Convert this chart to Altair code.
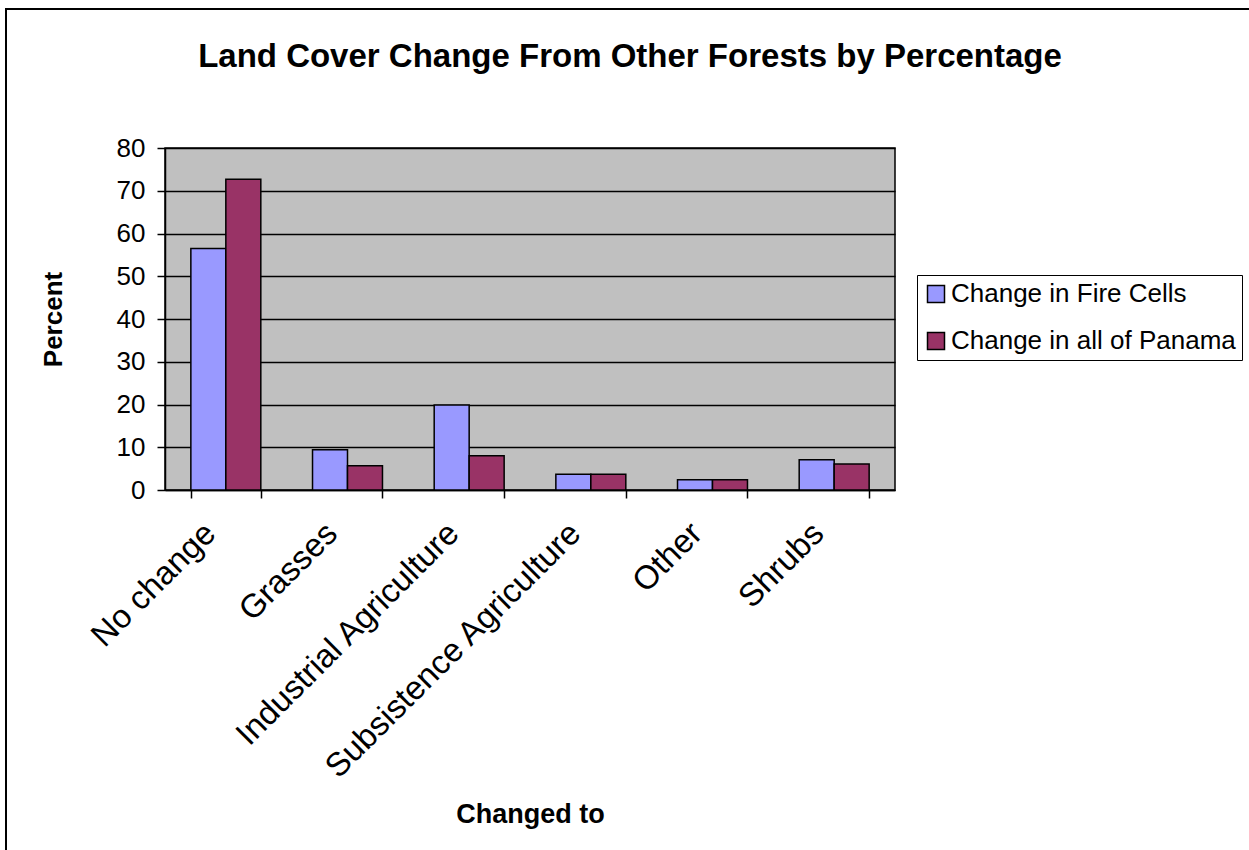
import altair as alt
import pandas as pd

categories = ["No change", "Grasses", "Industrial Agriculture",
              "Subsistence Agriculture", "Other", "Shrubs"]
series_names = ["Change in Fire Cells", "Change in all of Panama"]
fire_cells = [56.5, 9.4, 19.9, 3.7, 2.4, 7.1]
all_panama = [72.7, 5.7, 8.0, 3.7, 2.4, 6.1]
y_ticks = [0, 10, 20, 30, 40, 50, 60, 70, 80]
colors = ["#9999FF", "#993366"]

rows = []
for c, a, b in zip(categories, fire_cells, all_panama):
    rows.append({"category": c, "series": series_names[0], "value": a})
    rows.append({"category": c, "series": series_names[1], "value": b})
df = pd.DataFrame(rows)

FONT = "Liberation Sans"

bars = alt.Chart(df).mark_bar(stroke="black", strokeWidth=1.5).encode(
    x=alt.X("category:N", sort=categories,
            scale=alt.Scale(paddingInner=0.425, paddingOuter=0.2125),
            axis=alt.Axis(title="Changed to", titleFontSize=27, titleFont=FONT,
                          titleFontWeight="bold", titleColor="black",
                          titleY=332, titleBaseline="alphabetic",
                          labelAngle=-45, labelAlign="right", labelBaseline="middle",
                          labelFontSize=33, labelFont=FONT, labelColor="black",
                          labelPadding=30, labelOffset=-16, labelLimit=600,
                          tickBand="extent", tickSize=8, tickColor="black", tickWidth=1.5,
                          domainColor="black", domainWidth=1.5, grid=False)),
    xOffset=alt.XOffset("series:N", sort=series_names,
                        scale=alt.Scale(paddingInner=0, paddingOuter=0)),
    y=alt.Y("value:Q", scale=alt.Scale(domain=[0, 80], nice=False),
            axis=alt.Axis(values=y_ticks, title="Percent", titleFontSize=26,
                          titleFont=FONT, titleFontWeight="bold", titleColor="black",
                          titleAngle=-90, titleX=-112, titleY=171,
                          titleAlign="center", titleBaseline="middle",
                          labelFontSize=26, labelFont=FONT, labelColor="black",
                          labelPadding=12, tickSize=8, tickColor="black", tickWidth=1.5,
                          domainColor="black", domainWidth=1.5,
                          grid=True, gridColor="black", gridWidth=1.5, gridOpacity=1)),
    color=alt.Color("series:N", sort=series_names,
                    scale=alt.Scale(domain=series_names, range=colors),
                    legend=alt.Legend(title=None, orient="none", legendX=752, legendY=127,
                                      strokeColor="black", padding=6,
                                      labelFontSize=26, labelFont=FONT, labelColor="black",
                                      labelLimit=500,
                                      symbolType="square", symbolSize=289,
                                      symbolStrokeColor="black", symbolStrokeWidth=1.5,
                                      labelOffset=2, rowPadding=21)),
)

border = alt.Chart(pd.DataFrame({"k": [0]})).mark_rect(
    fill=None, stroke="black", strokeWidth=2
).encode(
    x=alt.value(-159), x2=alt.value(1200),
    y=alt.value(-139), y2=alt.value(800),
)

chart = alt.layer(bars, border).properties(
    width=730, height=342,
    title=alt.TitleParams("Land Cover Change From Other Forests by Percentage",
                          fontSize=33, font=FONT, fontWeight="bold", color="black",
                          anchor="middle", frame="group", dx=100, offset=-66),
    autosize=alt.AutoSizeParams(type="none"),
    padding={"left": 165, "top": 148, "right": 354, "bottom": 360},
    background="white",
).configure_view(
    fill="#C0C0C0", stroke="black", strokeWidth=1.5
)

chart.save("out.html", embed_options={"renderer": "svg", "actions": False})
